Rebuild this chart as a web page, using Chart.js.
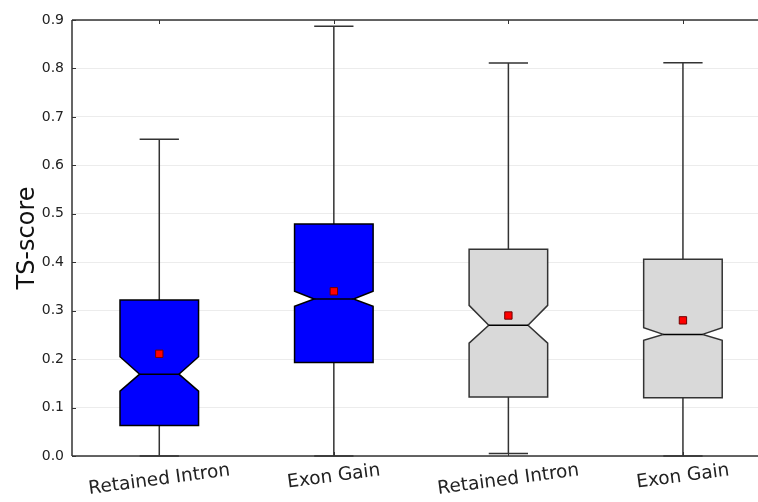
<!DOCTYPE html>
<html>
<head>
<meta charset="utf-8">
<script src="https://cdn.jsdelivr.net/npm/chart.js@4.4.0/dist/chart.umd.min.js"></script>
<style>
  html, body { margin: 0; padding: 0; background: #fff; overflow: hidden; }
  #wrap { width: 758px; height: 502px; position: relative; }
</style>
</head>
<body>
<div id="wrap"><canvas id="c"></canvas></div>
<script>
// TS-score distributions per event type (notched box plot summary statistics)
const categories  = ['Retained Intron', 'Exon Gain', 'Retained Intron', 'Exon Gain'];
const whiskerLow  = [0.000, 0.000, 0.005, 0.000];
const q1          = [0.063, 0.193, 0.122, 0.120];
const median      = [0.169, 0.324, 0.270, 0.251];
const q3          = [0.322, 0.479, 0.427, 0.406];
const whiskerHigh = [0.654, 0.887, 0.811, 0.812];
const notchLow    = [0.134, 0.309, 0.233, 0.239];
const notchHigh   = [0.205, 0.340, 0.311, 0.265];
const means       = [0.211, 0.340, 0.290, 0.280];
const boxColors   = ['#0000ff', '#0000ff', '#d9d9d9', '#d9d9d9'];
const yTicks      = [0.0, 0.1, 0.2, 0.3, 0.4, 0.5, 0.6, 0.7, 0.8, 0.9];

const FONT = "'DejaVu Sans', sans-serif";
const BOX_HALF = 0.225;   // half box width in category units
const CAP_HALF = 0.1125;  // half cap width in category units

const boxPlugin = {
  id: 'notchedBoxes',
  beforeDatasetsDraw(chart) {
    const { ctx, scales: { x, y } } = chart;
    ctx.save();
    categories.forEach((_, i) => {
      const xl = x.getPixelForValue(i - BOX_HALF);
      const xr = x.getPixelForValue(i + BOX_HALF);
      const xnl = x.getPixelForValue(i - BOX_HALF / 2);
      const xnr = x.getPixelForValue(i + BOX_HALF / 2);
      const xc = x.getPixelForValue(i);
      const yq1 = y.getPixelForValue(q1[i]);
      const yq3 = y.getPixelForValue(q3[i]);
      const ym = y.getPixelForValue(median[i]);
      const ynl = y.getPixelForValue(notchLow[i]);
      const ynh = y.getPixelForValue(notchHigh[i]);
      const ywl = y.getPixelForValue(whiskerLow[i]);
      const ywh = y.getPixelForValue(whiskerHigh[i]);
      const edge = i < 2 ? '#000' : '#333';

      // whiskers and caps
      ctx.strokeStyle = '#333';
      ctx.lineWidth = 1.5;
      ctx.beginPath();
      ctx.moveTo(xc, yq3); ctx.lineTo(xc, ywh);
      ctx.moveTo(xc, yq1); ctx.lineTo(xc, ywl);
      const cl = x.getPixelForValue(i - CAP_HALF);
      const cr = x.getPixelForValue(i + CAP_HALF);
      ctx.moveTo(cl, ywh); ctx.lineTo(cr, ywh);
      ctx.moveTo(cl, ywl); ctx.lineTo(cr, ywl);
      ctx.stroke();

      // notched box outline
      ctx.beginPath();
      ctx.moveTo(xl, yq1);
      ctx.lineTo(xr, yq1);
      ctx.lineTo(xr, ynl);
      ctx.lineTo(xnr, ym);
      ctx.lineTo(xr, ynh);
      ctx.lineTo(xr, yq3);
      ctx.lineTo(xl, yq3);
      ctx.lineTo(xl, ynh);
      ctx.lineTo(xnl, ym);
      ctx.lineTo(xl, ynl);
      ctx.closePath();
      ctx.fillStyle = boxColors[i];
      ctx.fill();
      ctx.strokeStyle = edge;
      ctx.lineWidth = 1.5;
      ctx.stroke();

      // median
      ctx.beginPath();
      ctx.moveTo(xnl, ym); ctx.lineTo(xnr, ym);
      ctx.strokeStyle = '#000';
      ctx.stroke();
    });
    ctx.restore();
  },
  afterDraw(chart) {
    const { ctx, chartArea: a, scales: { x, y } } = chart;
    ctx.save();
    // frame: left, top, bottom
    ctx.strokeStyle = '#333';
    ctx.lineWidth = 1.5;
    ctx.beginPath();
    ctx.moveTo(a.left, a.top); ctx.lineTo(a.right + 2, a.top);
    ctx.moveTo(a.left, a.top); ctx.lineTo(a.left, a.bottom);
    ctx.moveTo(a.left, a.bottom); ctx.lineTo(a.right + 2, a.bottom);
    ctx.stroke();
    // inward tick marks
    ctx.lineWidth = 1;
    ctx.beginPath();
    yTicks.forEach(v => {
      const py = Math.round(y.getPixelForValue(v)) + 0.5;
      ctx.moveTo(a.left, py); ctx.lineTo(a.left + 4, py);
    });
    categories.forEach((_, i) => {
      const px = Math.round(x.getPixelForValue(i)) + 0.5;
      ctx.moveTo(px, a.top); ctx.lineTo(px, a.top + 4);
      ctx.moveTo(px, a.bottom); ctx.lineTo(px, a.bottom - 4);
    });
    ctx.stroke();

    // rotated category labels, centred under each position
    const theta = 7.5 * Math.PI / 180;
    const fs = 18.5;
    ctx.font = fs + 'px ' + FONT;
    ctx.fillStyle = '#222';
    ctx.textAlign = 'center';
    ctx.textBaseline = 'middle';
    categories.forEach((label, i) => {
      const w = ctx.measureText(label).width;
      const cy = a.bottom + 5 + (w / 2) * Math.sin(theta) + (fs * 0.52) * Math.cos(theta);
      ctx.save();
      ctx.translate(x.getPixelForValue(i), cy);
      ctx.rotate(-theta);
      ctx.fillText(label, 0, 0);
      ctx.restore();
    });
    ctx.restore();
  }
};

new Chart(document.getElementById('c'), {
  type: 'scatter',
  data: {
    datasets: [{
      label: 'mean',
      data: means.map((m, i) => ({ x: i, y: m })),
      pointStyle: 'rect',
      pointRadius: 5.2,
      pointHoverRadius: 5.2,
      backgroundColor: '#ff0000',
      borderColor: '#700000',
      borderWidth: 1
    }]
  },
  options: {
    responsive: true,
    maintainAspectRatio: false,
    animation: false,
    events: [],
    layout: { autoPadding: false, padding: { top: 20, left: 0, right: 0, bottom: 0 } },
    plugins: { legend: { display: false }, tooltip: { enabled: false } },
    scales: {
      x: {
        type: 'linear',
        min: -0.5,
        max: 3.43,
        grid: { display: false, drawTicks: false },
        border: { display: false },
        ticks: { display: false },
        afterFit: s => { s.height = 46; }
      },
      y: {
        type: 'linear',
        min: 0,
        max: 0.9,
        afterBuildTicks: s => { s.ticks = yTicks.map(v => ({ value: v })); },
        afterFit: s => { s.width = 72; },
        grid: { color: '#ececec', lineWidth: 1, drawTicks: false },
        border: { display: false },
        ticks: {
          padding: 8,
          color: '#222',
          font: { family: FONT, size: 14 },
          callback: v => Number(v).toFixed(1)
        },
        title: {
          display: true,
          text: 'TS-score',
          color: '#111',
          font: { family: FONT, size: 24 },
          padding: { top: 13, bottom: 0 }
        }
      }
    }
  },
  plugins: [boxPlugin]
});
</script>
</body>
</html>
